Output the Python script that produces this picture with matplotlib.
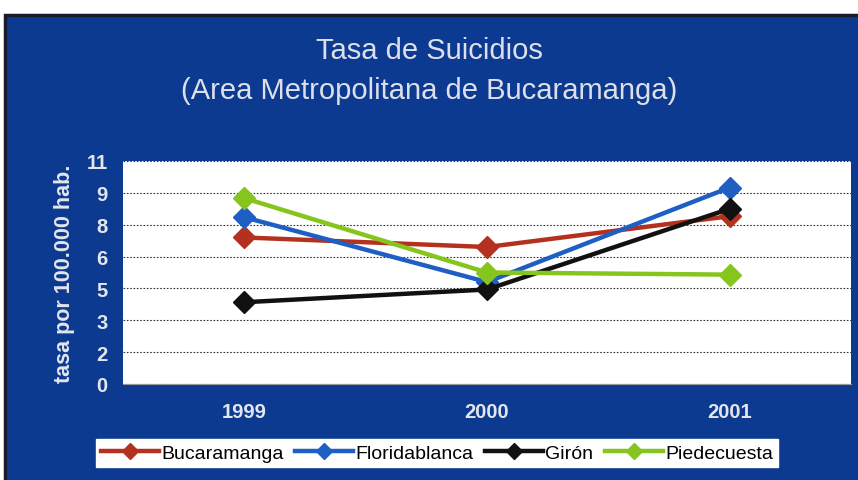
import numpy as np
import matplotlib.pyplot as plt
from matplotlib.patches import Rectangle

years = ["1999", "2000", "2001"]
bucaramanga = [6.9, 6.45, 7.9]
floridablanca = [7.85, 4.8, 9.25]
giron = [3.85, 4.45, 8.25]
piedecuesta = [8.75, 5.25, 5.15]
series_names = ["Bucaramanga", "Floridablanca", "Girón", "Piedecuesta"]
colors = ["#b5311f", "#1f5fc4", "#111111", "#86c51e"]
yticks = [0, 1.5, 3, 4.5, 6, 7.5, 9, 10.5]
ytick_labels = ["0", "2", "3", "5", "6", "8", "9", "11"]

font = "Liberation Sans"
bg = "#0c3a91"
txt = "#e4e6ee"

fig = plt.figure(figsize=(8.58, 4.81), dpi=100)
fig.patch.set_facecolor("white")
# blue panel with dark border
fig.patches.append(Rectangle((0.006, -0.01), 1.0, 0.977, transform=fig.transFigure,
                             facecolor=bg, edgecolor="#1a1a2a", linewidth=2.5, zorder=-10))

ax = fig.add_axes([123 / 858, 1 - 385 / 481, 728 / 858, 223 / 481])
ax.set_facecolor("white")
x = np.arange(len(years))
for vals, name, c in zip([bucaramanga, floridablanca, giron, piedecuesta], series_names, colors):
    ax.plot(x, vals, color=c, lw=3.2, marker="D", ms=11, mec=c, mfc=c, label=name, zorder=3)

ax.set_xlim(-0.5, 2.5)
ax.set_ylim(0, 10.5)
ax.set_yticks(yticks)
ax.set_yticklabels(ytick_labels)
ax.set_xticks(x)
ax.set_xticklabels(years)
ax.grid(axis="y", color="#333333", linestyle=(0, (1.5, 1.5)), linewidth=0.8)
ax.tick_params(length=0, colors=txt, labelsize=14.5)
ax.tick_params(axis="y", pad=11)
ax.tick_params(axis="x", pad=13)
for lab in ax.get_xticklabels() + ax.get_yticklabels():
    lab.set_fontweight("bold")
    lab.set_family(font)
for s in ax.spines.values():
    s.set_visible(False)
ax.spines["bottom"].set_visible(True)
ax.spines["bottom"].set_color("#999999")

ax.set_ylabel("tasa por 100.000 hab.", color=txt, fontsize=15.5,
              fontweight="bold", family=font, labelpad=8)

fig.text(0.5, 1 - 51 / 481, "Tasa de Suicidios", ha="center", va="center",
         color="#dde0ea", fontsize=21, family=font)
fig.text(0.5, 1 - 91 / 481, "(Area Metropolitana de Bucaramanga)", ha="center", va="center",
         color="#dde0ea", fontsize=21, family=font)

leg = fig.legend(loc="center", bbox_to_anchor=(437 / 858, 1 - 454 / 481), ncol=4,
                 frameon=True, fancybox=False, framealpha=1, edgecolor="white",
                 handlelength=3.0, handletextpad=0.1, columnspacing=0.6,
                 borderpad=0.25, markerscale=0.7,
                 prop={"family": font, "size": 14})
for t in leg.get_texts():
    t.set_color("black")

fig.savefig("out.png", dpi=100, facecolor=fig.get_facecolor())
